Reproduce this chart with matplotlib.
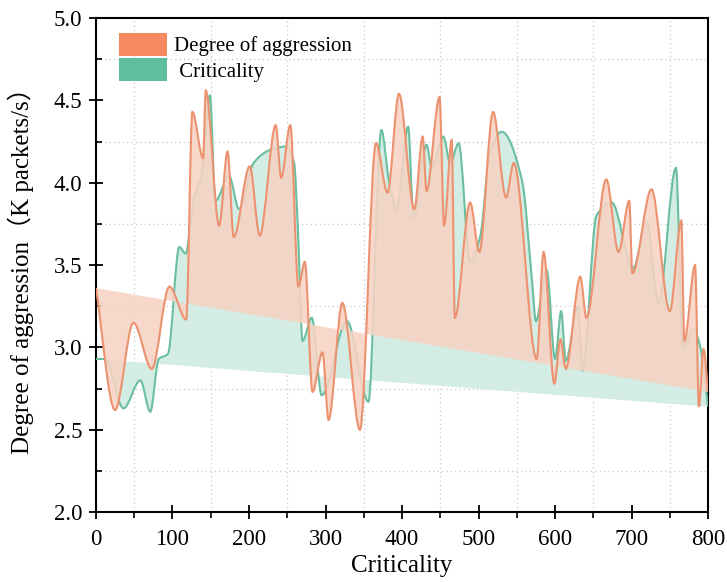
import matplotlib.pyplot as plt
import numpy as np
from matplotlib.path import Path
from matplotlib.patches import PathPatch, Patch
from matplotlib.ticker import MultipleLocator

# values (peaks and troughs of each curve)
orange_x = [0, 25, 49, 73, 96, 118, 126, 140, 143.5, 161, 172, 180, 201, 214, 235, 242, 254,
            264.5, 273, 283, 296, 304, 322, 345, 366, 381, 396, 416, 427, 432, 449, 455, 465,
            469, 489, 501, 519, 536, 546, 576, 585, 599, 607, 614, 633, 641, 667, 683, 697,
            701, 726, 750, 765, 769, 783, 788, 794, 800]
orange_y = [3.36, 2.62, 3.15, 2.87, 3.37, 3.17, 4.43, 4.15, 4.56, 3.74, 4.19, 3.67, 4.10, 3.68,
            4.35, 4.03, 4.35, 3.37, 3.52, 2.73, 2.97, 2.56, 3.27, 2.50, 4.24, 3.94, 4.54, 3.84,
            4.28, 3.95, 4.52, 3.74, 4.26, 3.18, 3.88, 3.58, 4.43, 3.91, 4.12, 2.93, 3.58, 2.78,
            3.05, 2.87, 3.43, 3.18, 4.02, 3.58, 3.89, 3.45, 3.96, 3.22, 3.77, 3.04, 3.50, 2.64,
            2.99, 2.73]

green_x = [0, 12, 36, 58, 71, 82, 94, 109, 117, 128, 138, 149, 156, 174, 187, 206, 228, 248,
           259, 264, 270, 282, 295, 328, 356, 373, 383, 393, 408, 415, 432, 439, 454, 463, 474,
           489, 502, 515, 530, 557, 570, 575, 589, 600, 608, 614, 630, 636, 654, 674, 702, 720,
           735, 758, 767, 781, 790, 800]
green_y = [2.93, 2.93, 2.63, 2.80, 2.61, 2.93, 2.96, 3.61, 3.57, 3.90, 4.05, 4.53, 3.89, 4.04,
           3.84, 4.12, 4.20, 4.22, 4.12, 3.71, 3.04, 3.18, 2.71, 3.16, 2.67, 4.32, 4.01, 3.84,
           4.34, 3.79, 4.23, 4.09, 4.28, 4.12, 4.24, 3.52, 3.67, 4.18, 4.31, 4.01, 3.40, 3.16,
           3.47, 2.93, 3.22, 2.92, 3.25, 2.86, 3.80, 3.88, 3.48, 3.76, 3.27, 4.09, 3.00, 3.11,
           3.00, 2.64]

labels = ['Degree of aggression', ' Criticality']


def slopes(x, y):
    # shape preserving (pchip style) tangents
    h = np.diff(x)
    d = np.diff(y) / h
    m = np.zeros(len(x))
    for i in range(1, len(x) - 1):
        if d[i - 1] * d[i] > 0:
            w1 = 2 * h[i] + h[i - 1]
            w2 = h[i] + 2 * h[i - 1]
            m[i] = (w1 + w2) / (w1 / d[i - 1] + w2 / d[i])
    m[0] = d[0]
    m[-1] = d[-1]
    return m


def smooth_path(x, y, close=False):
    x = np.asarray(x, float)
    y = np.asarray(y, float)
    m = slopes(x, y)
    verts = [(x[0], y[0])]
    codes = [Path.MOVETO]
    for i in range(len(x) - 1):
        h = x[i + 1] - x[i]
        verts += [(x[i] + h / 3, y[i] + m[i] * h / 3),
                  (x[i + 1] - h / 3, y[i + 1] - m[i + 1] * h / 3),
                  (x[i + 1], y[i + 1])]
        codes += [Path.CURVE4] * 3
    if close:
        verts.append((x[0], y[0]))
        codes.append(Path.CLOSEPOLY)
    return Path(verts, codes)


plt.rcParams['font.family'] = ['Liberation Serif', 'Noto Sans CJK SC']

fig = plt.figure(figsize=(7.27, 5.82), dpi=100)
ax = fig.add_axes([0.132, 0.120, 0.842, 0.849])

ax.add_patch(PathPatch(smooth_path(green_x, green_y, True), facecolor='#d3ede4',
                       edgecolor='none', zorder=2))
ax.add_patch(PathPatch(smooth_path(green_x, green_y), fill=False, edgecolor='#6bbf9f',
                       lw=1.5, zorder=3))
ax.add_patch(PathPatch(smooth_path(orange_x, orange_y, True), facecolor='#f6d3c3',
                       edgecolor='none', alpha=0.88, zorder=4))
ax.add_patch(PathPatch(smooth_path(orange_x, orange_y), fill=False, edgecolor='#ec9270',
                       lw=1.5, zorder=5))

ax.set_xlim(0, 800)
ax.set_ylim(2.0, 5.0)
ax.xaxis.set_major_locator(MultipleLocator(100))
ax.xaxis.set_minor_locator(MultipleLocator(50))
ax.yaxis.set_major_locator(MultipleLocator(0.5))
ax.yaxis.set_minor_locator(MultipleLocator(0.25))
ax.yaxis.set_major_formatter(plt.FormatStrFormatter('%.1f'))
ax.tick_params(which='major', direction='inout', length=10, width=1.3, labelsize=16.5)
ax.tick_params(axis='x', which='major', pad=7)
ax.tick_params(axis='y', which='major', pad=5)
ax.tick_params(axis='x', which='minor', direction='out', length=4, width=1.2)
ax.tick_params(axis='y', which='minor', direction='in', length=4, width=1.2)
ax.grid(which='minor', linestyle=(0, (1, 2.5)), color='#c8c8c8', lw=0.9)
ax.grid(which='major', visible=False)
ax.set_axisbelow(True)
for s in ax.spines.values():
    s.set_linewidth(1.5)

ax.set_xlabel('Criticality', fontsize=18, labelpad=4)
ax.set_ylabel('Degree of aggression（K packets/s）', fontsize=18, labelpad=14)

handles = [Patch(facecolor='#f58a60'), Patch(facecolor='#5fbf9c')]
ax.legend(handles, labels, loc='upper left', bbox_to_anchor=(0.037, 0.97), frameon=False,
          fontsize=15, handlelength=2.3, handleheight=1.3, labelspacing=0.1,
          handletextpad=0.35, borderpad=0, borderaxespad=0)

plt.savefig('out.png', dpi=100)
